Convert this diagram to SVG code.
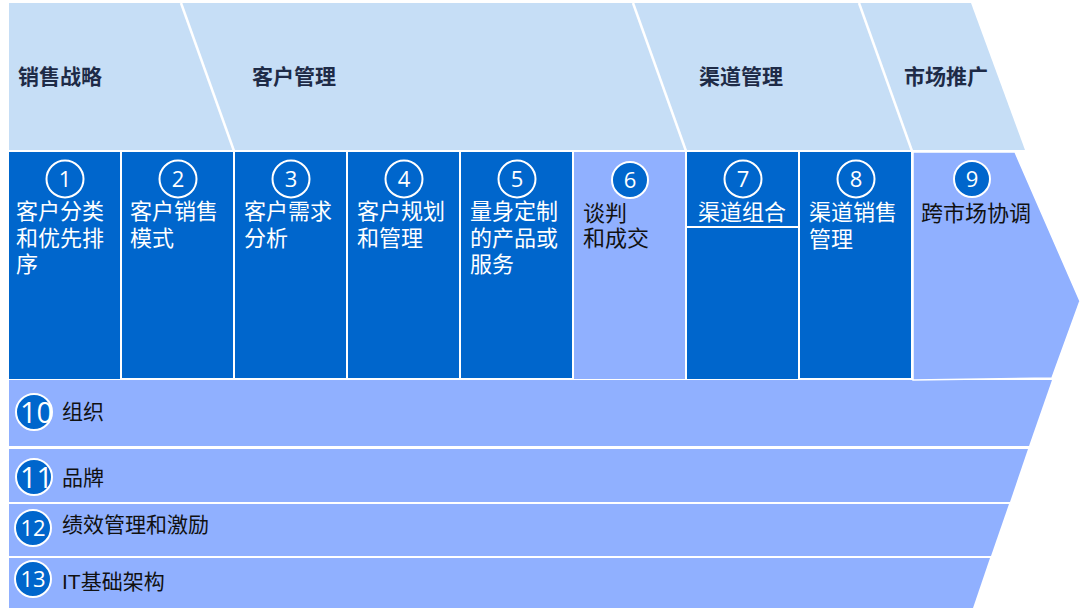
<svg xmlns="http://www.w3.org/2000/svg" width="1080" height="608" viewBox="0 0 1080 608">
<style>
.dark{fill:#0066CC}
.light{fill:#90B0FF}
.banner{fill:#C6DEF6}
.div{stroke:#FFFFFF;stroke-width:2.5;fill:none}
.hdr{font-family:"Liberation Sans","Noto Sans CJK SC",sans-serif;font-weight:bold;font-size:21px;fill:#1E2B47}
.wt{font-family:"Liberation Sans","Noto Sans CJK SC",sans-serif;font-size:22px;fill:#FFFFFF}
.bt{font-family:"Liberation Sans","Noto Sans CJK SC",sans-serif;font-size:22px;fill:#111111}
.lb{font-family:"Liberation Sans","Noto Sans CJK SC",sans-serif;font-size:21px;fill:#111111}
.ring{fill:none;stroke:#FFFFFF;stroke-width:2}
.ringf{fill:#0066CC;stroke:#FFFFFF;stroke-width:2}
.num{font-family:"Open Sans","Liberation Sans",sans-serif;font-size:22px;fill:#FFFFFF;text-anchor:middle}
.bnum{font-family:"Open Sans","Liberation Sans",sans-serif;font-size:29px;fill:#FFFFFF}
</style>
<rect x="0" y="0" width="1080" height="608" fill="#FFFFFF"/>
<g id="banner">
<polygon class="banner" points="9,3 971,3 1025,150 9,150"/>
<line class="div" x1="181" y1="3" x2="234" y2="151"/>
<line class="div" x1="633" y1="3" x2="686" y2="151"/>
<line class="div" x1="859" y1="3" x2="912" y2="151"/>
<text class="hdr" x="18" y="84">销售战略</text>
<text class="hdr" x="252" y="84">客户管理</text>
<text class="hdr" x="699" y="84">渠道管理</text>
<text class="hdr" x="904" y="84">市场推广</text>
</g>
<g id="bands">
<g id="n10">
<polygon class="light" points="9,380 1052,380 1029,446 9,446"/>
<circle class="ringf" cx="34" cy="412" r="18"/>
<text class="bnum" x="20" y="423">10</text>
<text class="lb" x="62" y="419">组织</text>
</g>
<g id="n11">
<polygon class="light" points="9,449 1028,449 1010,502 9,502"/>
<circle class="ringf" cx="34" cy="477" r="18"/>
<text class="bnum" x="20" y="488">11</text>
<text class="lb" x="62" y="485">品牌</text>
</g>
<g id="n12">
<polygon class="light" points="9,504 1009,504 991,556 9,556"/>
<circle class="ringf" cx="33" cy="528" r="18"/>
<text class="num" x="33" y="536">12</text>
<text class="lb" x="62" y="532">绩效管理和激励</text>
</g>
<g id="n13">
<polygon class="light" points="9,558 990,558 973,608 9,608"/>
<circle class="ringf" cx="33" cy="579" r="18"/>
<text class="num" x="33" y="587">13</text>
<text class="lb" x="62" y="589">IT基础架构</text>
</g>
</g>
<g id="n1">
<rect class="dark" x="9" y="152" width="111" height="227"/>
<circle class="ring" cx="65" cy="179" r="18.5"/>
<text class="num" x="65" y="187">1</text>
<text class="wt" x="16" y="219">客户分类<tspan x="16" dy="27">和优先排</tspan><tspan x="16" dy="26">序</tspan></text>
</g>
<g id="n2">
<rect class="dark" x="122" y="152" width="111" height="226"/>
<circle class="ring" cx="178" cy="179" r="18.5"/>
<text class="num" x="178" y="187">2</text>
<text class="wt" x="130" y="219">客户销售<tspan x="130" dy="27">模式</tspan></text>
</g>
<g id="n3">
<rect class="dark" x="235" y="152" width="111" height="226"/>
<circle class="ring" cx="291" cy="179" r="18.5"/>
<text class="num" x="291" y="187">3</text>
<text class="wt" x="244" y="219">客户需求<tspan x="244" dy="27">分析</tspan></text>
</g>
<g id="n4">
<rect class="dark" x="348" y="152" width="111" height="226"/>
<circle class="ring" cx="404" cy="179" r="18.5"/>
<text class="num" x="404" y="187">4</text>
<text class="wt" x="357" y="219">客户规划<tspan x="357" dy="27">和管理</tspan></text>
</g>
<g id="n5">
<rect class="dark" x="461" y="152" width="111" height="226"/>
<circle class="ring" cx="517" cy="179" r="18.5"/>
<text class="num" x="517" y="187">5</text>
<text class="wt" x="470" y="219">量身定制<tspan x="470" dy="27">的产品或</tspan><tspan x="470" dy="26">服务</tspan></text>
</g>
<g id="n6">
<rect class="light" x="574" y="152" width="111" height="227"/>
<circle class="ringf" cx="630" cy="180" r="18"/>
<text class="num" x="630" y="188">6</text>
<text class="bt" x="583" y="221">谈判<tspan x="583" dy="25">和成交</tspan></text>
</g>
<g id="n7">
<rect class="dark" x="687" y="152" width="111" height="227"/>
<line x1="687" y1="227" x2="798" y2="227" stroke="#FFFFFF" stroke-width="2"/>
<circle class="ring" cx="743" cy="179" r="18.5"/>
<text class="num" x="743" y="187">7</text>
<text class="wt" x="742" y="220" text-anchor="middle">渠道组合</text>
</g>
<g id="n8">
<rect class="dark" x="800" y="152" width="111" height="226"/>
<circle class="ring" cx="856" cy="179" r="18.5"/>
<text class="num" x="856" y="187">8</text>
<text class="wt" x="809" y="220">渠道销售<tspan x="809" dy="27">管理</tspan></text>
</g>
<g id="n9">
<polygon class="light" points="913,152 1015,152 1080,301 1052,378 913,380" stroke="#FFFFFF" stroke-width="1.5"/>
<circle class="ringf" cx="972" cy="179" r="18"/>
<text class="num" x="972" y="187">9</text>
<text class="bt" x="921" y="221">跨市场协调</text>
</g>
<g id="connectors"/>
</svg>
